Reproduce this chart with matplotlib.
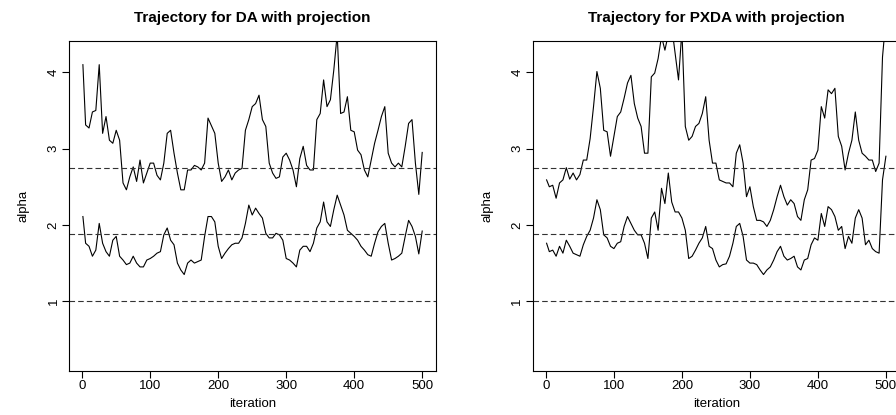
import numpy as np
import matplotlib
matplotlib.use("Agg")
import matplotlib.pyplot as plt

plt.rcParams['font.family'] = ['Liberation Sans', 'DejaVu Sans']

# iteration grid the values were read at (every 5th draw)
iters = np.arange(0, 501, 5)
iters[0] = 1

# DA with projection
da_hi = [4.10, 3.31, 3.27, 3.48, 3.50, 4.10, 3.20, 3.42, 3.11, 3.07,
         3.24, 3.11, 2.55, 2.46, 2.63, 2.76, 2.57, 2.85, 2.55, 2.68,
         2.81, 2.81, 2.65, 2.59, 2.81, 3.20, 3.24, 2.94, 2.68, 2.46,
         2.46, 2.72, 2.72, 2.78, 2.76, 2.72, 2.81, 3.40, 3.30, 3.20,
         2.81, 2.57, 2.63, 2.72, 2.59, 2.68, 2.72, 2.74, 3.24, 3.38,
         3.55, 3.59, 3.70, 3.38, 3.29, 2.81, 2.68, 2.61, 2.63, 2.89,
         2.94, 2.85, 2.72, 2.50, 2.87, 3.03, 2.78, 2.72, 2.72, 3.38,
         3.46, 3.90, 3.55, 3.64, 4.03, 4.50, 3.46, 3.48, 3.68, 3.24,
         3.22, 2.98, 2.92, 2.72, 2.63, 2.85, 3.07, 3.24, 3.42, 3.55,
         2.94, 2.81, 2.76, 2.81, 2.76, 3.03, 3.33, 3.38, 2.81, 2.40,
         2.95]
da_lo = [2.11, 1.76, 1.72, 1.59, 1.67, 2.02, 1.76, 1.65, 1.59, 1.80,
         1.85, 1.59, 1.54, 1.48, 1.50, 1.59, 1.50, 1.45, 1.45, 1.54,
         1.56, 1.59, 1.63, 1.65, 1.87, 1.96, 1.80, 1.74, 1.50, 1.41,
         1.35, 1.50, 1.54, 1.50, 1.52, 1.54, 1.85, 2.11, 2.11, 2.04,
         1.72, 1.56, 1.63, 1.69, 1.74, 1.76, 1.76, 1.83, 2.02, 2.26,
         2.13, 2.22, 2.15, 2.09, 1.89, 1.83, 1.83, 1.89, 1.87, 1.80,
         1.56, 1.54, 1.50, 1.45, 1.67, 1.72, 1.72, 1.65, 1.76, 1.96,
         2.04, 2.30, 2.04, 1.98, 2.20, 2.39, 2.26, 2.13, 1.93, 1.89,
         1.85, 1.80, 1.72, 1.67, 1.61, 1.59, 1.76, 1.91, 1.98, 2.02,
         1.76, 1.54, 1.56, 1.59, 1.63, 1.85, 2.06, 1.98, 1.85, 1.62,
         1.92]

# PXDA with projection
px_hi = [2.59, 2.50, 2.52, 2.35, 2.55, 2.59, 2.75, 2.60, 2.68, 2.59,
         2.66, 2.85, 2.85, 3.13, 3.55, 4.01, 3.79, 3.24, 3.22, 2.90,
         3.16, 3.42, 3.48, 3.66, 3.86, 3.96, 3.59, 3.40, 3.29, 2.94,
         2.94, 3.94, 3.99, 4.18, 4.47, 4.29, 4.50, 4.60, 4.25, 3.90,
         4.55, 3.29, 3.11, 3.16, 3.29, 3.33, 3.46, 3.68, 3.11, 2.81,
         2.81, 2.59, 2.57, 2.55, 2.55, 2.50, 2.94, 3.05, 2.81, 2.37,
         2.50, 2.24, 2.06, 2.06, 2.04, 1.98, 2.06, 2.20, 2.37, 2.52,
         2.37, 2.26, 2.33, 2.28, 2.11, 2.06, 2.33, 2.46, 2.85, 2.87,
         2.98, 3.55, 3.40, 3.77, 3.72, 3.79, 3.16, 3.03, 2.72, 2.94,
         3.11, 3.48, 3.11, 2.94, 2.90, 2.85, 2.85, 2.70, 2.81, 4.20,
         4.70]
px_lo = [1.76, 1.65, 1.67, 1.59, 1.72, 1.63, 1.80, 1.72, 1.63, 1.61,
         1.59, 1.74, 1.85, 1.93, 2.09, 2.33, 2.20, 1.87, 1.83, 1.72,
         1.69, 1.76, 1.78, 1.98, 2.11, 2.02, 1.93, 1.87, 1.87, 1.76,
         1.56, 2.09, 2.17, 1.93, 2.48, 2.28, 2.68, 2.30, 2.17, 2.17,
         2.09, 1.93, 1.56, 1.59, 1.67, 1.76, 1.83, 1.98, 1.72, 1.69,
         1.54, 1.45, 1.48, 1.49, 1.59, 1.76, 1.98, 2.02, 1.85, 1.54,
         1.50, 1.50, 1.48, 1.41, 1.35, 1.41, 1.45, 1.54, 1.65, 1.72,
         1.59, 1.54, 1.56, 1.59, 1.45, 1.41, 1.54, 1.56, 1.74, 1.83,
         1.80, 2.15, 1.98, 2.24, 2.20, 2.11, 1.93, 1.98, 1.69, 1.85,
         1.76, 2.09, 2.20, 2.09, 1.74, 1.80, 1.69, 1.65, 1.63, 2.59,
         2.90]

ref_lines = [1.0, 1.875, 2.75]
xticks = [0, 100, 200, 300, 400, 500]
yticks = [1, 2, 3, 4]


def makePanel(ax, hi, lo, title):
    ax.plot(iters, hi, color='black', lw=0.8)
    ax.plot(iters, lo, color='black', lw=0.8)
    for h in ref_lines:
        ax.axhline(h, color='#333333', lw=0.8, linestyle=(0, (5, 2.8)))
    ax.set_xlim(-19, 520)
    ax.set_ylim(0.09, 4.41)
    ax.set_xticks(xticks)
    ax.set_yticks(yticks)
    ax.set_yticklabels([str(t) for t in yticks], rotation=90, va='center')
    ax.tick_params(direction='out', length=5, width=0.8, labelsize=9.5, pad=2)
    for s in ax.spines.values():
        s.set_linewidth(0.8)
    ax.set_title(title, fontsize=11, fontweight='bold', pad=14)
    ax.set_xlabel('iteration', fontsize=9.5, labelpad=4)
    ax.set_ylabel('alpha', fontsize=9.5, labelpad=13)


fig = plt.figure(figsize=(8.96, 4.15), dpi=100)
ax1 = fig.add_axes([69.3 / 896, 44.3 / 415, 366.5 / 896, 329.7 / 415])
ax2 = fig.add_axes([533 / 896, 44.3 / 415, 366.5 / 896, 329.7 / 415])

makePanel(ax1, da_hi, da_lo, 'Trajectory for DA with projection')
makePanel(ax2, px_hi, px_lo, 'Trajectory for PXDA with projection')

fig.savefig('out.png', dpi=100)
